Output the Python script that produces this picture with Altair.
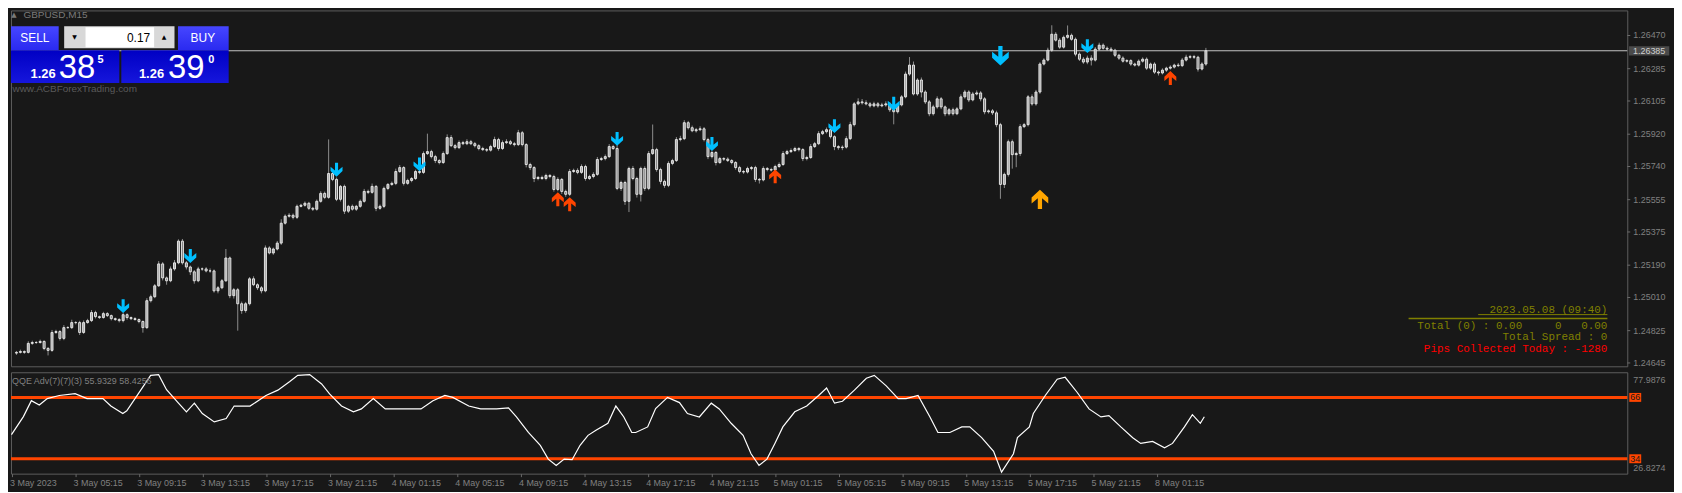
import json
import altair as alt
import pandas as pd

# ---------------- data ----------------
FIRST_OPEN = 1.24700
CLOSE = [
    1.24704, 1.24709, 1.24704, 1.24754, 1.24759, 1.24759, 1.24765, 1.24726, 1.24715, 1.24815,
    1.24820, 1.24782, 1.24842, 1.24842, 1.24870, 1.24870, 1.24815, 1.24870, 1.24881, 1.24926,
    1.24903, 1.24898, 1.24920, 1.24909, 1.24892, 1.24887, 1.24881, 1.24914, 1.24898, 1.24892,
    1.24887, 1.24876, 1.24842, 1.24992, 1.25014, 1.25075, 1.25197, 1.25119, 1.25103, 1.25169,
    1.25203, 1.25324, 1.25203, 1.25180, 1.25153, 1.25103, 1.25169, 1.25169, 1.25158, 1.25158,
    1.25047, 1.25064, 1.25103, 1.25230, 1.25020, 1.25053, 1.24975, 1.24937, 1.24975, 1.25114,
    1.25081, 1.25064, 1.25047, 1.25286, 1.25258, 1.25280, 1.25313, 1.25424, 1.25463, 1.25468,
    1.25457, 1.25518, 1.25524, 1.25535, 1.25507, 1.25502, 1.25546, 1.25590, 1.25568, 1.25701,
    1.25668, 1.25557, 1.25629, 1.25491, 1.25518, 1.25502, 1.25518, 1.25546, 1.25601, 1.25596,
    1.25629, 1.25507, 1.25518, 1.25618, 1.25640, 1.25646, 1.25712, 1.25734, 1.25646, 1.25662,
    1.25673, 1.25712, 1.25707, 1.25812, 1.25823, 1.25795, 1.25773, 1.25762, 1.25812, 1.25901,
    1.25856, 1.25845, 1.25873, 1.25867, 1.25878, 1.25867, 1.25856, 1.25840, 1.25834, 1.25831,
    1.25851, 1.25890, 1.25840, 1.25873, 1.25878, 1.25867, 1.25862, 1.25928, 1.25862, 1.25751,
    1.25734, 1.25673, 1.25679, 1.25673, 1.25690, 1.25684, 1.25612, 1.25668, 1.25601, 1.25585,
    1.25712, 1.25718, 1.25707, 1.25740, 1.25673, 1.25684, 1.25696, 1.25779, 1.25784, 1.25795,
    1.25851, 1.25840, 1.25618, 1.25651, 1.25546, 1.25729, 1.25673, 1.25585, 1.25729, 1.25618,
    1.25812, 1.25834, 1.25723, 1.25657, 1.25635, 1.25757, 1.25773, 1.25890, 1.25895, 1.25984,
    1.25956, 1.25939, 1.25945, 1.25950, 1.25890, 1.25795, 1.25818, 1.25762, 1.25784, 1.25781,
    1.25773, 1.25762, 1.25734, 1.25712, 1.25709, 1.25729, 1.25734, 1.25668, 1.25665, 1.25729,
    1.25723, 1.25720, 1.25740, 1.25751, 1.25812, 1.25823, 1.25829, 1.25840, 1.25834, 1.25784,
    1.25790, 1.25851, 1.25867, 1.25923, 1.25934, 1.25945, 1.25906, 1.25851, 1.25845, 1.25848,
    1.25895, 1.25973, 1.26089, 1.26100, 1.26095, 1.26089, 1.26078, 1.26089, 1.26078, 1.26083,
    1.26089, 1.26056, 1.26045, 1.26083, 1.26128, 1.26255, 1.26305, 1.26144, 1.26222, 1.26155,
    1.26100, 1.26034, 1.26072, 1.26117, 1.26072, 1.26034, 1.26056, 1.26034, 1.26061, 1.26128,
    1.26155, 1.26111, 1.26144, 1.26150, 1.26117, 1.26045, 1.26050, 1.26039, 1.25973, 1.25640,
    1.25696, 1.25878, 1.25806, 1.25812, 1.25962, 1.25973, 1.26128, 1.26089, 1.26155, 1.26311,
    1.26333, 1.26388, 1.26477, 1.26444, 1.26405, 1.26460, 1.26471, 1.26449, 1.26366, 1.26338,
    1.26322, 1.26344, 1.26333, 1.26394, 1.26416, 1.26399, 1.26394, 1.26388, 1.26360, 1.26344,
    1.26327, 1.26330, 1.26311, 1.26305, 1.26327, 1.26338, 1.26288, 1.26311, 1.26266, 1.26261,
    1.26277, 1.26288, 1.26294, 1.26305, 1.26302, 1.26333, 1.26349, 1.26352, 1.26349, 1.26283,
    1.26311, 1.26385,
]
# wick lengths above / below the body, in points (0.00001)
UPPER_WICK = [
    8, 10, 6, 12, 10, 8, 10, 6, 8, 14,
    10, 8, 14, 8, 16, 8, 10, 12, 10, 14,
    10, 6, 10, 8, 6, 6, 8, 12, 8, 6,
    8, 6, 6, 14, 12, 10, 16, 10, 8, 14,
    16, 10, 12, 10, 8, 10, 12, 8, 10, 14,
    8, 10, 10, 50, 8, 10, 10, 12, 10, 10,
    14, 8, 10, 14, 10, 8, 12, 22, 10, 12,
    10, 10, 8, 10, 8, 8, 10, 12, 10, 190,
    8, 10, 8, 10, 8, 10, 8, 10, 14, 10,
    16, 8, 10, 10, 8, 10, 16, 14, 8, 10,
    8, 10, 8, 12, 100, 10, 10, 8, 12, 18,
    14, 10, 12, 10, 14, 10, 10, 8, 10, 8,
    10, 16, 10, 12, 14, 10, 10, 16, 10, 8,
    10, 8, 8, 10, 10, 8, 10, 12, 8, 10,
    14, 10, 12, 12, 10, 10, 12, 14, 10, 12,
    14, 10, 30, 10, 10, 10, 14, 10, 10, 12,
    14, 140, 10, 10, 10, 12, 10, 14, 16, 14,
    10, 12, 10, 14, 10, 10, 10, 8, 10, 8,
    10, 8, 8, 10, 8, 10, 8, 10, 8, 12,
    8, 10, 10, 12, 14, 10, 12, 10, 8, 8,
    10, 14, 10, 14, 10, 12, 10, 8, 8, 10,
    14, 16, 10, 20, 16, 14, 10, 12, 10, 12,
    14, 10, 10, 10, 10, 14, 45, 20, 10, 14,
    10, 10, 12, 14, 10, 8, 10, 12, 10, 14,
    12, 10, 12, 14, 10, 10, 8, 10, 12, 10,
    10, 12, 12, 10, 14, 10, 10, 14, 12, 10,
    10, 14, 50, 12, 12, 10, 55, 10, 10, 10,
    12, 14, 16, 12, 14, 10, 10, 12, 8, 8,
    10, 8, 8, 8, 10, 10, 10, 8, 10, 8,
    10, 8, 10, 8, 12, 12, 14, 10, 10, 8,
    10, 16,
]
LOWER_WICK = [
    10, 6, 8, 6, 8, 8, 6, 10, 28, 8,
    8, 12, 10, 6, 8, 10, 14, 8, 6, 8,
    10, 8, 6, 8, 10, 8, 10, 10, 12, 8,
    6, 10, 28, 8, 10, 8, 6, 14, 22, 8,
    10, 8, 10, 14, 18, 16, 8, 10, 8, 10,
    10, 14, 8, 6, 14, 16, 150, 18, 12, 10,
    8, 12, 14, 8, 8, 10, 8, 10, 8, 8,
    12, 10, 6, 8, 10, 10, 8, 8, 10, 8,
    10, 10, 12, 16, 10, 8, 10, 8, 8, 10,
    8, 16, 8, 10, 10, 8, 10, 8, 12, 8,
    10, 8, 10, 8, 8, 10, 14, 10, 8, 8,
    8, 10, 8, 8, 8, 8, 10, 10, 8, 10,
    8, 8, 12, 8, 8, 8, 10, 8, 10, 16,
    14, 20, 10, 8, 10, 10, 12, 10, 14, 14,
    10, 8, 10, 8, 12, 8, 10, 8, 8, 10,
    8, 8, 10, 14, 20, 60, 10, 18, 40, 14,
    10, 8, 12, 16, 14, 10, 10, 8, 10, 8,
    10, 8, 10, 8, 10, 14, 10, 16, 8, 10,
    8, 10, 12, 10, 10, 8, 10, 14, 20, 8,
    10, 8, 10, 8, 8, 8, 8, 8, 10, 14,
    10, 8, 8, 8, 8, 10, 10, 20, 12, 14,
    8, 8, 10, 8, 10, 8, 10, 8, 10, 8,
    10, 12, 70, 10, 8, 8, 10, 8, 10, 30,
    12, 14, 10, 10, 12, 14, 10, 10, 8, 8,
    10, 12, 8, 8, 14, 14, 10, 12, 14, 80,
    20, 12, 78, 70, 14, 8, 10, 10, 10, 10,
    8, 8, 10, 8, 10, 8, 8, 8, 12, 10,
    10, 12, 30, 8, 8, 8, 10, 10, 10, 10,
    8, 8, 10, 8, 8, 8, 10, 10, 10, 14,
    8, 10, 8, 8, 8, 8, 8, 8, 10, 14,
    8, 10,
]
POINT = 0.00001

TIME_TICKS = [0, 16, 32, 48, 64, 80, 96, 112, 128, 144, 160, 176, 192, 208, 224, 240, 256, 272, 288]
TIME_LABELS = ["3 May 2023", "3 May 05:15", "3 May 09:15", "3 May 13:15", "3 May 17:15",
               "3 May 21:15", "4 May 01:15", "4 May 05:15", "4 May 09:15", "4 May 13:15",
               "4 May 17:15", "4 May 21:15", "5 May 01:15", "5 May 05:15", "5 May 09:15",
               "5 May 13:15", "5 May 17:15", "5 May 21:15", "8 May 01:15"]
PRICE_TICKS = [1.24645, 1.24825, 1.25010, 1.25190, 1.25375, 1.25555, 1.25740,
               1.25920, 1.26105, 1.26285, 1.26470]
CURRENT_PRICE = 1.26385

ARROW_BAR = [27, 44, 81, 102, 152, 176, 207, 222, 249, 271, 137, 140, 192, 292, 259]
ARROW_PRICE = [1.24962, 1.25241, 1.25722, 1.25752, 1.25894, 1.25865, 1.25965, 1.26090,
               1.26357, 1.26411, 1.25557, 1.25530, 1.25685, 1.26233, 1.25557]
ARROW_KIND = ["sell"] * 8 + ["sell_big", "sell"] + ["buy"] * 4 + ["buy_big"]

QQE_BAR = [0, 3, 5, 7, 9, 12, 16, 19, 23, 25, 28, 29, 32, 35, 37, 39, 42, 44, 46, 48,
           51, 54, 56, 60, 64, 67, 70, 72, 75, 78, 80, 83, 86, 88, 91, 94, 98, 101, 103, 106,
           109, 111, 115, 118, 122, 125, 127, 130, 133, 135, 137, 139, 141, 143, 145, 147, 150, 152, 154, 156,
           157, 160, 162, 165, 168, 170, 173, 176, 178, 181, 184, 186, 188, 190, 192, 194, 197, 200, 203, 205,
           207, 209, 212, 215, 217, 220, 223, 225, 228, 231, 233, 236, 239, 241, 244, 247, 249, 252, 253, 256,
           257, 260, 263, 265, 268, 271, 274, 276, 279, 282, 284, 287, 290, 292, 295, 297, 299, 300]
QQE_VAL = [46.6, 56.0, 64.3, 62.0, 65.4, 67.0, 68.0, 65.4, 65.4, 61.5, 57.6, 59.0, 68.2, 77.5, 77.9, 70.0, 63.0, 58.5, 63.0, 57.6,
           53.2, 55.0, 61.5, 61.5, 67.0, 69.8, 74.3, 77.5, 77.9, 73.0, 67.8, 61.5, 58.5, 60.0, 65.4, 60.0, 60.0, 60.0, 60.0, 64.3,
           67.0, 66.0, 61.5, 60.0, 60.0, 60.5, 55.8, 47.7, 41.0, 33.8, 30.5, 33.8, 33.5, 41.0, 46.2, 48.9, 52.5, 61.5, 55.8, 47.7,
           47.7, 50.6, 60.2, 66.0, 63.3, 57.6, 55.8, 63.0, 60.0, 52.5, 46.2, 36.6, 30.5, 33.8, 42.0, 50.6, 58.5, 61.5, 67.0, 70.9,
           63.0, 64.0, 69.8, 76.0, 77.5, 72.0, 65.4, 65.4, 67.0, 55.8, 47.7, 47.7, 50.6, 50.6, 45.0, 37.9, 27.0, 36.6, 45.0, 50.6,
           57.6, 67.0, 75.5, 76.5, 68.7, 60.0, 55.8, 56.5, 50.6, 45.0, 42.0, 43.0, 39.7, 42.0, 50.6, 57.0, 52.5, 55.9]
QQE_LEVELS = [66, 34]
QQE_MAX, QQE_MIN = 77.9876, 26.8274

# ---------------- tables ----------------
opens = [FIRST_OPEN] + CLOSE[:-1]
candles = pd.DataFrame({
    "bar": list(range(len(CLOSE))),
    "open": opens,
    "close": CLOSE,
})
candles["high"] = [max(o, c) + u * POINT for o, c, u in zip(opens, CLOSE, UPPER_WICK)]
candles["low"] = [min(o, c) - d * POINT for o, c, d in zip(opens, CLOSE, LOWER_WICK)]
arrows = pd.DataFrame({"bar": ARROW_BAR, "price": ARROW_PRICE, "kind": ARROW_KIND})
qqe = pd.DataFrame({"bar": QQE_BAR, "qqe": QQE_VAL})
ticks_df = pd.DataFrame({"v": PRICE_TICKS})
ONE = pd.DataFrame({"k": [0]})

W = 1626
HM = 358
HI = 102
BG = "#181818"
GRID_TXT = "#808080"
FONT = "Liberation Sans"
NB = "\u00a0"

xscale = alt.Scale(domain=[-0.125, 406.375], nice=False, zero=False)
yscale = alt.Scale(domain=[1.246264, 1.266097], nice=False, zero=False)
iscale = alt.Scale(domain=[26.22, 79.12], nice=False, zero=False)

DOWN = "M -0.22 -1 L 0.22 -1 L 0.22 0.1 L 0.86 -0.42 L 0.86 0.2 L 0 1 L -0.86 0.2 L -0.86 -0.42 L -0.22 0.1 Z"
UP = "M -0.22 1 L 0.22 1 L 0.22 -0.1 L 0.86 0.42 L 0.86 -0.2 L 0 -1 L -0.86 -0.2 L -0.86 0.42 L -0.22 -0.1 Z"
BOX = "M -1 -0.75 L 1 -0.75 L 1 0.75 L -1 0.75 Z"
PRICEBOX = "M -1 -0.23 L 1 -0.23 L 1 0.23 L -1 0.23 Z"

base = alt.Chart(candles).encode(x=alt.X("bar:Q", scale=xscale, axis=None))

wicks = base.mark_rule(color="#8c8c8c", strokeWidth=1).encode(
    y=alt.Y("low:Q", scale=yscale, axis=None), y2="high:Q")

price_line = alt.Chart(ONE).mark_rule(color="#c4c4c4", strokeWidth=1).encode(
    y=alt.Y("p:Q", scale=yscale, axis=None)).transform_calculate(p=str(CURRENT_PRICE))

bodies = base.mark_bar(width=2, stroke="#e4e4e4", strokeWidth=1).encode(
    y=alt.Y("open:Q", scale=yscale, axis=None), y2="close:Q",
    fill=alt.condition("datum.close >= datum.open", alt.value("#a8a8a8"), alt.value("#7c7c7c")))

# right price scale (ticks + labels drawn through the y scale)
ytick_marks = alt.Chart(ticks_df).mark_rule(color="#6a6a6a", strokeWidth=1).encode(
    x=alt.value(W), x2=alt.value(W + 3), y=alt.Y("v:Q", scale=yscale, axis=None))
ytick_labels = alt.Chart(ticks_df).mark_text(font=FONT, fontSize=9, color=GRID_TXT, align="left",
                                             baseline="middle").encode(
    x=alt.value(W + 6), y=alt.Y("v:Q", scale=yscale, axis=None), text=alt.Text("v:Q", format=".5f"))


def arrow_layer(kind, shape, size, color):
    return alt.Chart(arrows).transform_filter(alt.datum.kind == kind).mark_point(
        shape=shape, size=size, filled=True, opacity=1, color=color, strokeWidth=0).encode(
        x=alt.X("bar:Q", scale=xscale, axis=None), y=alt.Y("price:Q", scale=yscale, axis=None))


arr_layers = [
    arrow_layer("sell", DOWN, 196, "#00bfff"),
    arrow_layer("sell_big", DOWN, 380, "#00bfff"),
    arrow_layer("buy", UP, 196, "#ff4500"),
    arrow_layer("buy_big", UP, 380, "#ffa500"),
]


def txt(text, x, y, size=10, color="#ffffff", align="left", baseline="middle", font=FONT,
        weight="normal"):
    return alt.Chart(ONE).mark_text(text=text, align=align, baseline=baseline, font=font,
                                    fontSize=size, color=color, fontWeight=weight).encode(
        x=alt.value(x), y=alt.value(y))


def rect(x1, y1, x2, y2, fill):
    return alt.Chart(ONE).mark_rect(fill=fill).encode(
        x=alt.value(x1), x2=alt.value(x2), y=alt.value(y1), y2=alt.value(y2))


def hline(x1, x2, y, color, w=1):
    return alt.Chart(ONE).mark_rule(color=color, strokeWidth=w).encode(
        x=alt.value(x1), x2=alt.value(x2), y=alt.value(y))


btn_grad = alt.Gradient(gradient="linear", x1=0, x2=0, y1=0, y2=1,
                        stops=[alt.GradientStop(offset=0, color="#4646ff"),
                               alt.GradientStop(offset=1, color="#2a2af0")])
box_grad = alt.Gradient(gradient="linear", x1=0, x2=0, y1=0, y2=1,
                        stops=[alt.GradientStop(offset=0, color="#0000c4"),
                               alt.GradientStop(offset=1, color="#1616dc")])
MONO = "Liberation Mono"
OLIVE = "#808000"

total_line = "Total (0) : 0.00" + NB * 5 + "0" + NB * 3 + "0.00"

overlay = [
    # info block
    txt("2023.05.08 (09:40)", 1606, 301, 11, OLIVE, "right", font=MONO),
    hline(1476, 1606, 306, OLIVE),
    hline(1406, 1606, 310, OLIVE, 1.5),
    txt(total_line, 1606, 317, 11, OLIVE, "right", font=MONO),
    txt("Total Spread : 0", 1606, 329, 11, OLIVE, "right", font=MONO),
    txt("Pips Collected Today : -1280", 1606, 341, 11, "#ff0000", "right", font=MONO),
    # symbol label
    txt("▲", 3, 5, 7, "#7a7a7a", "center", font="DejaVu Sans"),
    txt("GBPUSD,M15", 12.5, 5, 10, "#7a7a7a"),
    # trade panel
    rect(0, 16, 48, 40, btn_grad),
    rect(168, 16, 219, 40, btn_grad),
    rect(53.5, 16, 164.5, 38, "#d8d8d8"),
    rect(75, 17, 144, 37, "#ffffff"),
    txt("▼", 64, 27, 6, "#000000", "center", font="DejaVu Sans"),
    txt("▲", 154, 27, 6, "#000000", "center", font="DejaVu Sans"),
    txt("0.17", 140, 27.5, 12, "#000000", "right"),
    txt("SELL", 24, 27.5, 12, "#ffffff", "center"),
    txt("BUY", 193, 27.5, 12, "#ffffff", "center"),
    rect(0, 40, 109, 73, box_grad),
    rect(111, 40, 219, 73, box_grad),
    txt("1.26", 45, 67.5, 13, "#ffffff", "right", "alphabetic", weight="bold"),
    txt("38", 48, 68, 33, "#ffffff", "left", "alphabetic"),
    txt("5", 90, 44, 11, "#ffffff", "center", "top", weight="bold"),
    txt("1.26", 154, 67.5, 13, "#ffffff", "right", "alphabetic", weight="bold"),
    txt("39", 158, 68, 33, "#ffffff", "left", "alphabetic"),
    txt("0", 201.5, 44, 11, "#ffffff", "center", "top", weight="bold"),
    txt("www.ACBForexTrading.com", 1.5, 79, 10, "#5a5a5a"),
]

price_box = alt.Chart(ONE).mark_point(shape=PRICEBOX, size=1640, filled=True, opacity=1,
                                      color="#4a4a4a", strokeWidth=0).encode(
    x=alt.value(W + 22), y=alt.Y("p:Q", scale=yscale, axis=None)).transform_calculate(p=str(CURRENT_PRICE))
price_box_txt = alt.Chart(ONE).mark_text(text=f"{CURRENT_PRICE:.5f}", font=FONT, fontSize=9,
                                         color="#d0d0d0", align="center", baseline="middle").encode(
    x=alt.value(W + 22), y=alt.Y("p:Q", scale=yscale, axis=None)).transform_calculate(p=str(CURRENT_PRICE))

main = alt.layer(wicks, price_line, bodies, *arr_layers, *overlay, ytick_marks, ytick_labels,
                 price_box, price_box_txt).properties(width=W, height=HM)

# ---------------- indicator panel ----------------
label_expr = "%s[indexof(%s, datum.value)]" % (json.dumps(TIME_LABELS), json.dumps(TIME_TICKS))
xaxis = alt.Axis(values=TIME_TICKS, labelExpr=label_expr, tickSize=3, tickColor="#6a6a6a",
                 labelColor=GRID_TXT, labelFont=FONT, labelFontSize=9, labelAlign="left",
                 labelFlush=False, labelOverlap=False, domain=False, grid=False, title=None,
                 labelPadding=2, labelOffset=-2)

levels = alt.Chart(pd.DataFrame({"lvl": QQE_LEVELS})).mark_rule(color="#ff4500", strokeWidth=3).encode(
    y=alt.Y("lvl:Q", scale=iscale, axis=None))
qqe_line = alt.Chart(qqe).mark_line(color="#ffffff", strokeWidth=1.2).encode(
    x=alt.X("bar:Q", scale=xscale, axis=xaxis), y=alt.Y("qqe:Q", scale=iscale, axis=None))
lvl_box = alt.Chart(pd.DataFrame({"lvl": QQE_LEVELS})).mark_point(
    shape=BOX, size=144, filled=True, opacity=1, color="#ff4500", strokeWidth=0).encode(
    x=alt.value(W + 8), y=alt.Y("lvl:Q", scale=iscale, axis=None))
lvl_txt = alt.Chart(pd.DataFrame({"lvl": QQE_LEVELS})).mark_text(
    font=FONT, fontSize=9, color="#1a1a1a", align="center", baseline="middle").encode(
    x=alt.value(W + 8), y=alt.Y("lvl:Q", scale=iscale, axis=None), text=alt.Text("lvl:Q"))
ind_labels = [
    txt(f"{QQE_MAX:.4f}", W + 6, 8, 9, GRID_TXT),
    txt(f"{QQE_MIN:.4f}", W + 6, 96, 9, GRID_TXT),
    txt("QQE Adv(7)(7)(3) 55.9329 58.4256", 1, 9, 9, GRID_TXT),
]

ind = alt.layer(levels, qqe_line, lvl_box, lvl_txt, *ind_labels).properties(width=W, height=HI)

chart = alt.vconcat(main, ind, spacing=2).properties(
    padding={"left": 0, "top": 0, "right": 4, "bottom": 2}
).configure(background=BG).configure_view(stroke="#5e5e5e", strokeWidth=1)

chart.save("out.html", embed_options={"renderer": "svg", "actions": False})
